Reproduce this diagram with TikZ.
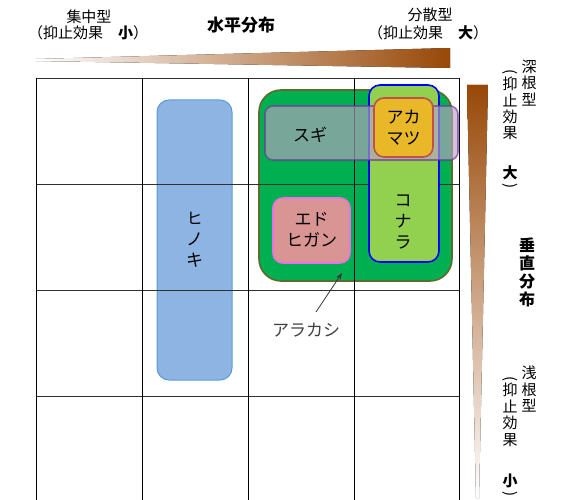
\documentclass[tikz,border=0pt]{standalone}
\usepackage{fontspec}
\setmainfont{Noto Sans CJK JP}
\usetikzlibrary{arrows.meta}
\definecolor{wedgebrown}{HTML}{984807}
\definecolor{wedgepink}{HTML}{D8AEA8}
\definecolor{greenfill}{HTML}{00B050}
\definecolor{greenline}{HTML}{5E6B2E}
\definecolor{konarafill}{HTML}{92D050}
\definecolor{konaraline}{HTML}{0000FF}
\definecolor{sugifill}{HTML}{B9A3C3}
\definecolor{sugiline}{HTML}{7030A0}
\definecolor{akafill}{HTML}{E8B828}
\definecolor{akaline}{HTML}{C0504D}
\definecolor{edofill}{HTML}{D99594}
\definecolor{edoline}{HTML}{EE6EE8}
\definecolor{hinofill}{HTML}{8EB4E3}
\definecolor{hinoline}{HTML}{5B9BD5}
\definecolor{gridline}{HTML}{303030}
\tikzset{
  treebox/.style={rectangle, inner sep=0pt, line width=1.6pt},
  lbl/.style={inner sep=0pt, font=\fontsize{15}{15}\selectfont},
  vch/.style={inner sep=0pt, font=\fontsize{15}{15}\selectfont},
  vpar/.style={inner sep=0pt, rotate=-90, font=\fontsize{15}{15}\selectfont},
  boxtxt/.style={inner sep=0pt, align=center, font=\fontsize{17}{21}\selectfont},
}
\newcommand{\vchar}[4]{\node[vch] (#1) at (#2,#3) {#4};}
\begin{document}
\begin{tikzpicture}[x=1pt,y=-1pt]
\useasboundingbox (0,0) rectangle (563,500);
% wedges
\fill[left color=white, middle color=wedgepink, right color=wedgebrown]
  (36,59) -- (450,48) -- (450,68) -- (36,61) -- cycle;
\fill[top color=wedgebrown, middle color=wedgepink, bottom color=white]
  (467,85) -- (488,85) -- (479,498) -- (476,498) -- cycle;
% top labels
\node[lbl] (shuchu) at (89,17) {集中型};
\node[lbl] (shuchuk) at (88,33) {（抑止効果　\textbf{小}）};
\node[inner sep=0pt, font=\fontsize{17}{17}\selectfont\bfseries] (suihei) at (241,25) {水平分布};
\node[lbl] (bunsan) at (430,15) {分散型};
\node[lbl] (bunsank) at (428,33) {（抑止効果　\textbf{大}）};
% right labels upper
\vchar{u1}{529}{67}{深}
\vchar{u2}{529}{83}{根}
\vchar{u3}{529}{100}{型}
\node[vpar] (u4) at (510,72) {(};
\vchar{u5}{510}{84}{抑}
\vchar{u6}{510}{100}{止}
\vchar{u7}{510}{117}{効}
\vchar{u8}{510}{133}{果}
\vchar{u9}{510}{173}{\textbf{大}}
\node[vpar] (u10) at (510,186) {)};
% vertical title
\node[inner sep=0pt, align=center, font=\fontsize{16}{18}\selectfont\bfseries] (suichoku) at (527,272) {垂\\直\\分\\布};
% right labels lower
\vchar{l1}{529}{373}{浅}
\vchar{l2}{529}{390}{根}
\vchar{l3}{529}{406}{型}
\node[vpar] (l4) at (510,379) {(};
\vchar{l5}{510}{390}{抑}
\vchar{l6}{510}{406}{止}
\vchar{l7}{510}{423}{効}
\vchar{l8}{510}{440}{果}
\vchar{l9}{510}{481}{\textbf{小}}
\node[vpar] (l10) at (510,494) {)};
% green (arakashi) box
\node[treebox, fill=greenfill, draw=greenline, rounded corners=22pt,
  minimum width=193pt, minimum height=191pt] (green) at (355.5,185.5) {};
% hinoki
\node[treebox, fill=hinofill, draw=hinoline, line width=1pt, rounded corners=12pt,
  minimum width=75pt, minimum height=280pt] (hinoki) at (194.5,240) {};
% grid
\foreach \yy in {78,184,290,396} \draw[gridline, line width=0.9pt] (36,\yy) -- (459,\yy);
\foreach \xx in {36,142,248,354,459} \draw[black, line width=0.9pt] (\xx,78) -- (\xx,500);
% konara
\node[treebox, fill=konarafill, draw=konaraline, rounded corners=11pt,
  minimum width=70pt, minimum height=177pt] (konara) at (404,173.5) {};
% sugi
\node[treebox, fill=sugifill, fill opacity=0.65, draw=sugiline, draw opacity=0.65, rounded corners=8pt,
  minimum width=193pt, minimum height=54pt] (sugi) at (361.5,133) {};
% akamatsu
\node[treebox, fill=akafill, draw=akaline, rounded corners=10pt,
  minimum width=59pt, minimum height=59pt] (akamatsu) at (403.5,127.5) {};
% edohigan
\node[treebox, fill=edofill, draw=edoline, rounded corners=10pt,
  minimum width=77pt, minimum height=65pt] (edo) at (311.5,230.5) {};
% texts
\node[boxtxt] (hinokit) at (194.5,240) {\fontsize{16}{20}\selectfont ヒ\\ノ\\キ};
\node[boxtxt] (konarat) at (403,222) {コ\\ナ\\ラ};
\node[boxtxt] (sugit) at (310,135) {スギ};
\node[boxtxt] (akamatsut) at (403.5,127.5) {アカ\\マツ};
\node[boxtxt] (edot) at (311.5,230) {エド\\ヒガン};
% arakashi label and arrow
\node[inner sep=0pt, text=black!75, font=\fontsize{17}{17}\selectfont] (arakashi) at (306,330) {アラカシ};
\coordinate (arrTail) at (316,312);
\coordinate (arrHead) at (342,273);
\draw[black!80, line width=0.8pt, -{Stealth[length=7pt,width=5pt]}] (arrTail) -- (arrHead);
\end{tikzpicture}
\end{document}
